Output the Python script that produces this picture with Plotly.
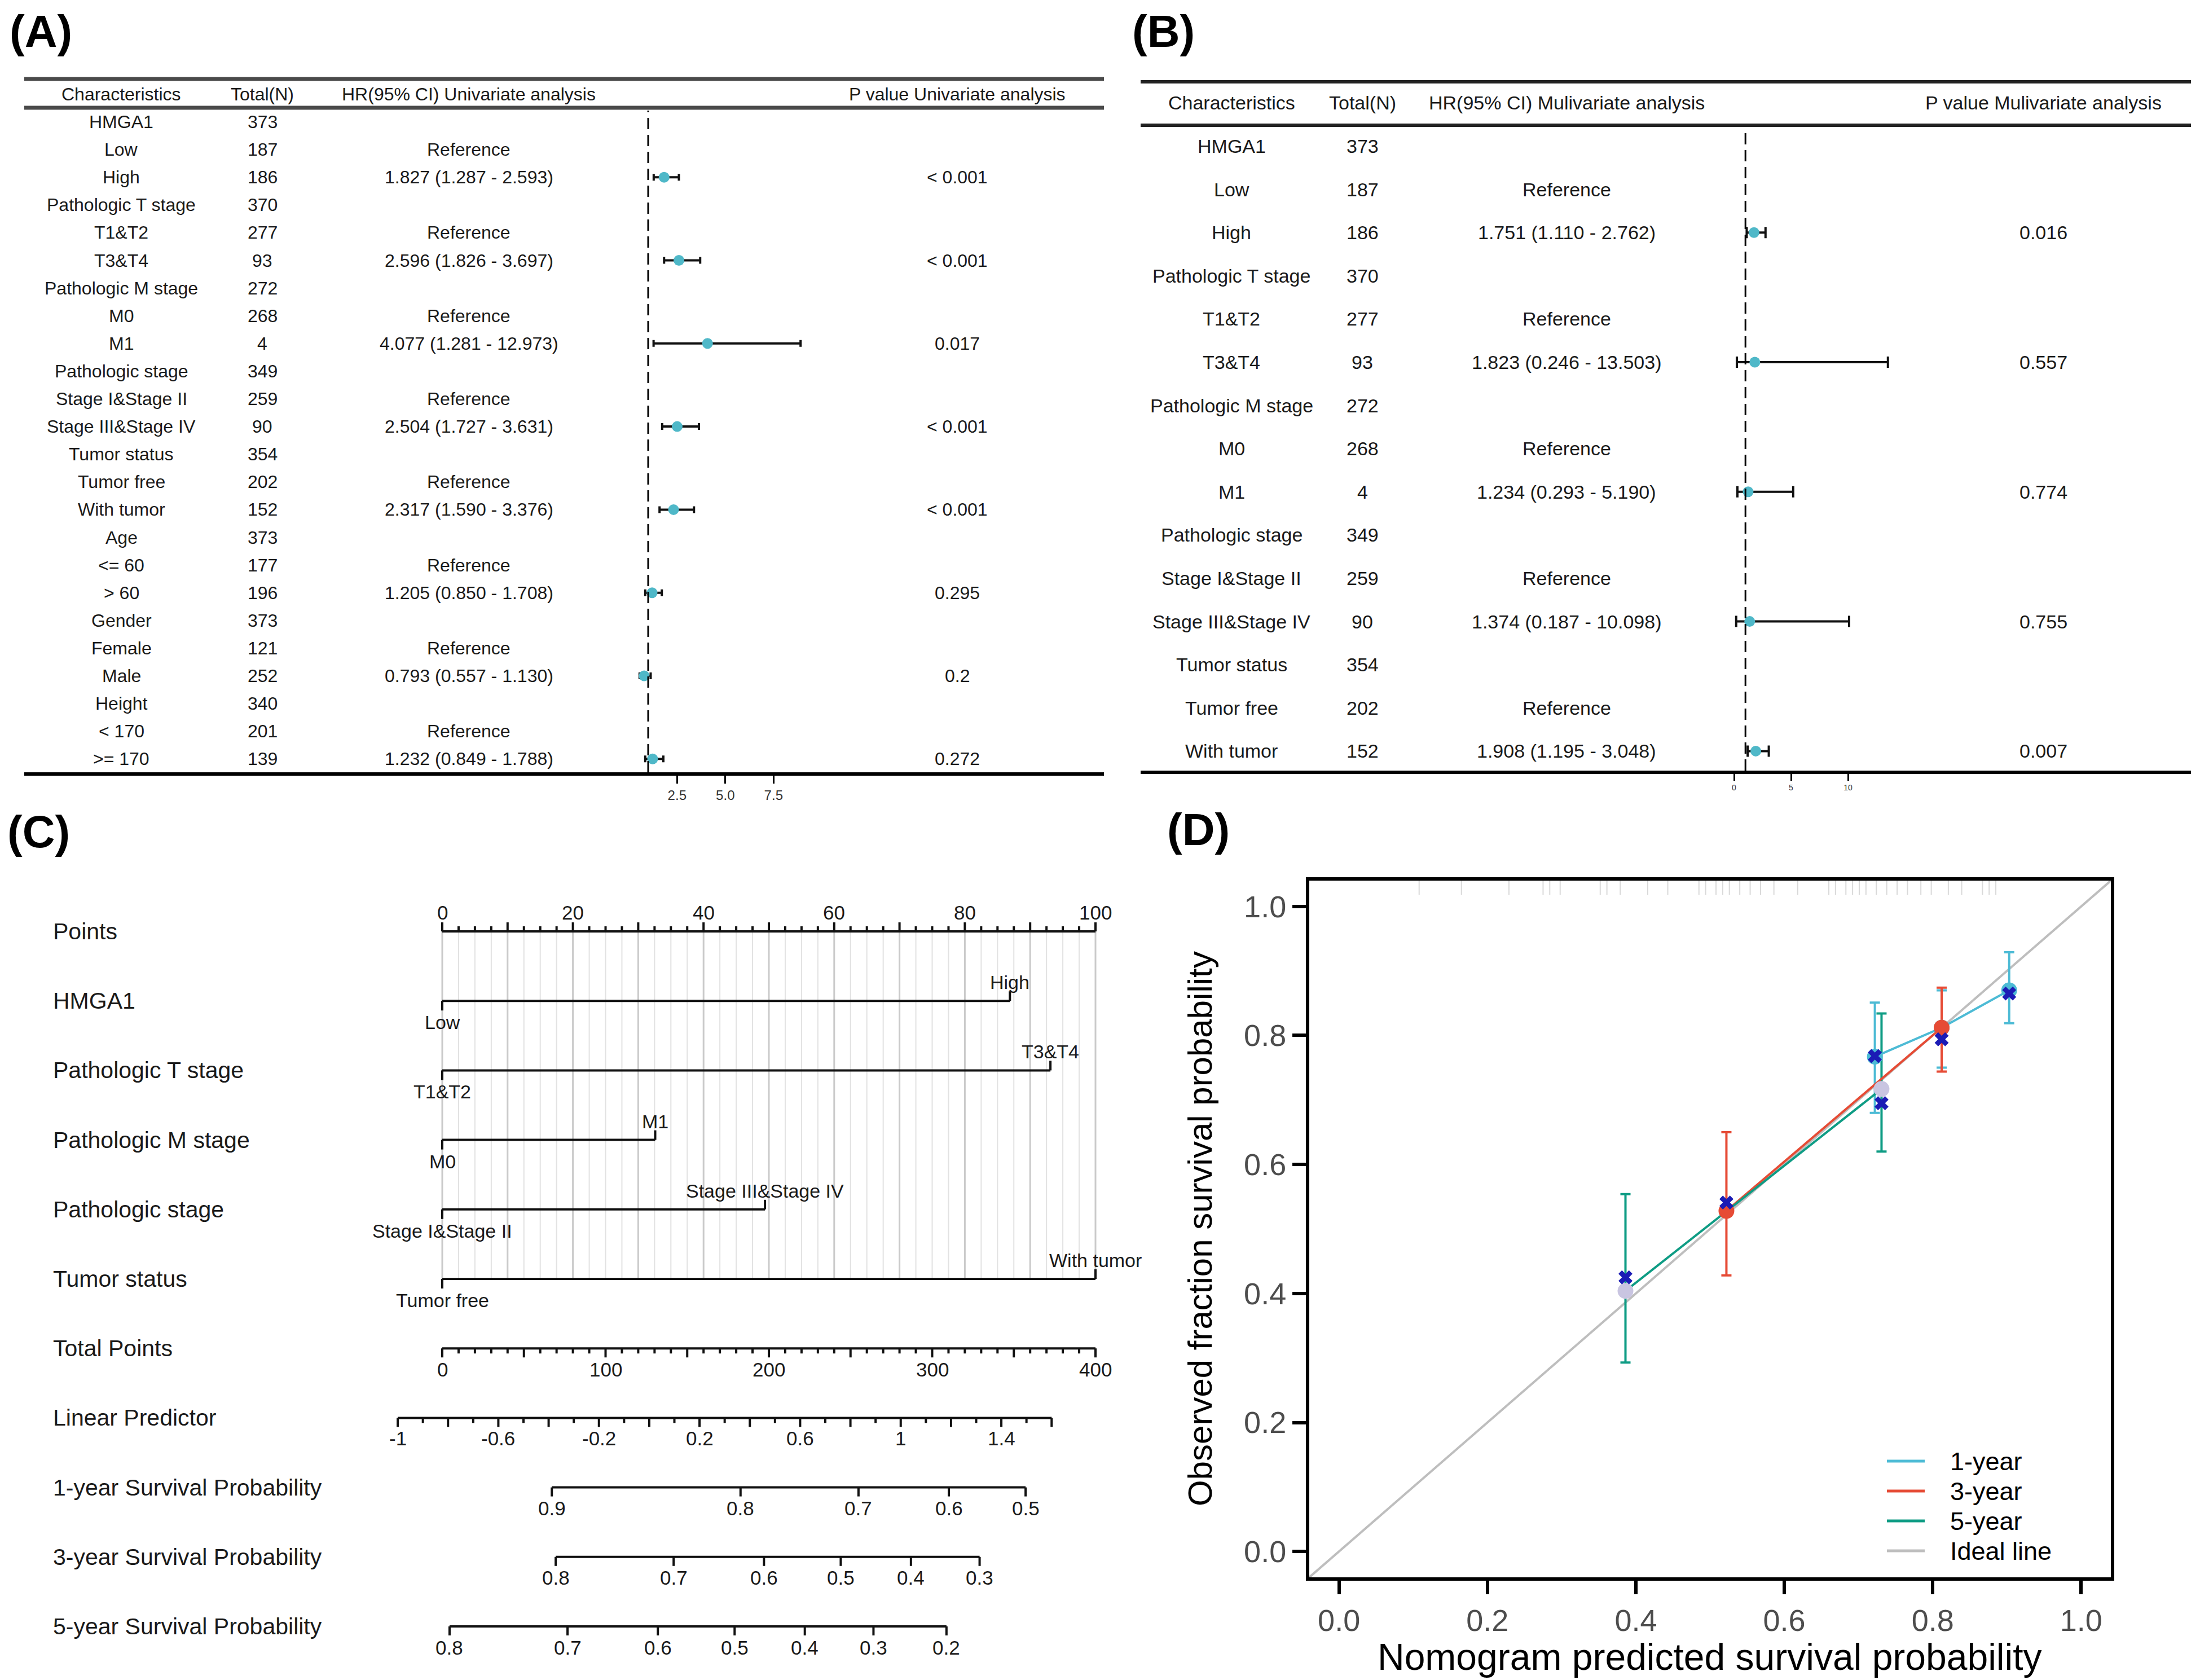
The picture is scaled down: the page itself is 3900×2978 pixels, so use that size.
import math
import plotly.graph_objects as go

W, H = 3900, 2978
FONT = "Liberation Sans, Arial, Helvetica, sans-serif"
TXT = "#1a1a1a"

# ====================== Panel A : univariate Cox ======================
A_CHARACTERISTICS = ["HMGA1", "Low", "High", "Pathologic T stage", "T1&T2", "T3&T4",
                     "Pathologic M stage", "M0", "M1", "Pathologic stage", "Stage I&Stage II",
                     "Stage III&Stage IV", "Tumor status", "Tumor free", "With tumor", "Age",
                     "<= 60", "> 60", "Gender", "Female", "Male", "Height", "< 170", ">= 170"]
A_TOTAL_N = [373, 187, 186, 370, 277, 93, 272, 268, 4, 349, 259, 90, 354, 202, 152,
             373, 177, 196, 373, 121, 252, 340, 201, 139]
A_REFERENCE = ["Low", "T1&T2", "M0", "Stage I&Stage II", "Tumor free", "<= 60", "Female", "< 170"]
A_LEVELS = ["High", "T3&T4", "M1", "Stage III&Stage IV", "With tumor", "> 60", "Male", ">= 170"]
A_HR = [1.827, 2.596, 4.077, 2.504, 2.317, 1.205, 0.793, 1.232]
A_LO = [1.287, 1.826, 1.281, 1.727, 1.590, 0.850, 0.557, 0.849]
A_HI = [2.593, 3.697, 12.973, 3.631, 3.376, 1.708, 1.130, 1.788]
A_P = ["< 0.001", "< 0.001", "0.017", "< 0.001", "< 0.001", "0.295", "0.2", "0.272"]
A_CLIP_HI = 8.9
A_TICKS = [2.5, 5.0, 7.5]

# ====================== Panel B : multivariate Cox ======================
B_CHARACTERISTICS = ["HMGA1", "Low", "High", "Pathologic T stage", "T1&T2", "T3&T4",
                     "Pathologic M stage", "M0", "M1", "Pathologic stage", "Stage I&Stage II",
                     "Stage III&Stage IV", "Tumor status", "Tumor free", "With tumor"]
B_TOTAL_N = [373, 187, 186, 370, 277, 93, 272, 268, 4, 349, 259, 90, 354, 202, 152]
B_REFERENCE = ["Low", "T1&T2", "M0", "Stage I&Stage II", "Tumor free"]
B_LEVELS = ["High", "T3&T4", "M1", "Stage III&Stage IV", "With tumor"]
B_HR = [1.751, 1.823, 1.234, 1.374, 1.908]
B_LO = [1.110, 0.246, 0.293, 0.187, 1.195]
B_HI = [2.762, 13.503, 5.190, 10.098, 3.048]
B_P = ["0.016", "0.557", "0.774", "0.755", "0.007"]
B_TICKS = [0, 5, 10]

REF_HR = 1.0

# ====================== Panel C : nomogram ======================
C_ROW_LABELS = ["Points", "HMGA1", "Pathologic T stage", "Pathologic M stage", "Pathologic stage",
                "Tumor status", "Total Points", "Linear Predictor", "1-year Survival Probability",
                "3-year Survival Probability", "5-year Survival Probability"]
C_VARS = ["HMGA1", "Pathologic T stage", "Pathologic M stage", "Pathologic stage", "Tumor status"]
C_LOW_LEVEL = ["Low", "T1&T2", "M0", "Stage I&Stage II", "Tumor free"]
C_HIGH_LEVEL = ["High", "T3&T4", "M1", "Stage III&Stage IV", "With tumor"]
C_HIGH_POINTS = [86.9, 93.1, 32.6, 49.4, 100.0]
C_POINTS_LABELS = [0, 20, 40, 60, 80, 100]
C_TOTAL_LABELS = [0, 100, 200, 300, 400]
C_TOTAL_MAX = 400
C_LP_MIN, C_LP_MAX = -1.0, 1.6
C_LP_LABELS = [-1, -0.6, -0.2, 0.2, 0.6, 1, 1.4]
C_LP_AT_ZERO = -0.823        # linear predictor at 0 total points
C_TP_PER_LP = 154.0          # total points per unit of linear predictor
C_LOG_CUMHAZ0 = {1: -1.863, 3: -1.128, 5: -0.706}   # baseline log cumulative hazard
C_SURV_TICKS = {1: [0.9, 0.8, 0.7, 0.6, 0.5],
                3: [0.8, 0.7, 0.6, 0.5, 0.4, 0.3],
                5: [0.8, 0.7, 0.6, 0.5, 0.4, 0.3, 0.2]}

# ====================== Panel D : calibration ======================
D_1Y_PRED = [0.722, 0.812, 0.903]
D_1Y_OBS = [0.767, 0.812, 0.870]
D_1Y_LO = [0.680, 0.750, 0.819]
D_1Y_HI = [0.851, 0.870, 0.929]
D_1Y_XPRED = [0.722, 0.903]
D_1Y_XOBS = [0.768, 0.865]

D_3Y_PRED = [0.522, 0.812]
D_3Y_OBS = [0.528, 0.812]
D_3Y_LO = [0.428, 0.744]
D_3Y_HI = [0.650, 0.874]
D_3Y_XPRED = [0.522, 0.812]
D_3Y_XOBS = [0.541, 0.794]

D_5Y_PRED = [0.386, 0.731]
D_5Y_OBS = [0.404, 0.717]
D_5Y_LO = [0.293, 0.620]
D_5Y_HI = [0.554, 0.834]
D_5Y_XPRED = [0.386, 0.731]
D_5Y_XOBS = [0.425, 0.695]

D_RUG = [0.108, 0.165, 0.229, 0.275, 0.284, 0.298, 0.352, 0.361, 0.379, 0.416, 0.443,
         0.485, 0.494, 0.508, 0.517, 0.526, 0.540, 0.554, 0.568, 0.586, 0.618, 0.660,
         0.669, 0.683, 0.692, 0.701, 0.710, 0.724, 0.738, 0.752, 0.766, 0.784, 0.798,
         0.821, 0.839, 0.867, 0.876, 0.885]
D_TICKS = [0.0, 0.2, 0.4, 0.6, 0.8, 1.0]
D_RANGE = [-0.04, 1.04]
D_LEGEND = ["1-year", "3-year", "5-year", "Ideal line"]
C1Y, C3Y, C5Y, CIDEAL = "#4DBBD5", "#E64B35", "#0E9C84", "#BEBEBE"
D_COLORS = [C1Y, C3Y, C5Y, CIDEAL]


def esc(s):
    return str(s).replace("&", "&amp;").replace("<", "&lt;").replace(">", "&gt;")


def pxx(x):
    return x / W


def pxy(y):
    return 1 - y / H


fig = go.Figure()
ann = []
shapes = []

# ---------------------------------------------------------------- A & B tables
def forest(chars, totals, refs, levels, hr, lo, hi, pvals, clip_hi, xa, ya, cols,
           hdr_hr, hdr_p, marker_size, cap, fs):
    heads = ["Characteristics", "Total(N)", hdr_hr, hdr_p]
    for c, t in zip(cols, heads):
        ann.append(dict(x=pxx(c), xref="paper", y=-1, yref=ya, text=esc(t), showarrow=False,
                        xanchor="center", yanchor="middle", font=dict(size=fs, color=TXT)))
    for i, (nm, n) in enumerate(zip(chars, totals)):
        ann.append(dict(x=pxx(cols[0]), xref="paper", y=i, yref=ya, text=esc(nm), showarrow=False,
                        xanchor="center", yanchor="middle", font=dict(size=fs, color=TXT)))
        ann.append(dict(x=pxx(cols[1]), xref="paper", y=i, yref=ya, text=str(n), showarrow=False,
                        xanchor="center", yanchor="middle", font=dict(size=fs, color=TXT)))
    for r in refs:
        ann.append(dict(x=pxx(cols[2]), xref="paper", y=chars.index(r), yref=ya, text="Reference",
                        showarrow=False, xanchor="center", yanchor="middle",
                        font=dict(size=fs, color=TXT)))
    for lv, h, l, u, p in zip(levels, hr, lo, hi, pvals):
        y = chars.index(lv)
        ann.append(dict(x=pxx(cols[2]), xref="paper", y=y, yref=ya,
                        text=f"{h:.3f} ({l:.3f} - {u:.3f})", showarrow=False,
                        xanchor="center", yanchor="middle", font=dict(size=fs, color=TXT)))
        ann.append(dict(x=pxx(cols[3]), xref="paper", y=y, yref=ya, text=esc(p), showarrow=False,
                        xanchor="center", yanchor="middle", font=dict(size=fs, color=TXT)))
    ys = [chars.index(lv) for lv in levels]
    up = [min(u, clip_hi) - h for h, u in zip(hr, hi)]
    dn = [h - l for h, l in zip(hr, lo)]
    fig.add_trace(go.Scatter(
        x=hr, y=ys, mode="markers", xaxis=xa, yaxis=ya,
        marker=dict(size=marker_size, color="#4FB8C8", symbol="circle",
                    line=dict(width=0)),
        error_x=dict(type="data", symmetric=False, array=up, arrayminus=dn,
                     color="#111111", thickness=4, width=cap),
        hoverinfo="skip", showlegend=False))


forest(A_CHARACTERISTICS, A_TOTAL_N, A_REFERENCE, A_LEVELS, A_HR, A_LO, A_HI, A_P, A_CLIP_HI,
       "x", "y", [215, 465, 831, 1697],
       "HR(95% CI) Univariate analysis", "P value Univariate analysis", 19, 6, 32)
forest(B_CHARACTERISTICS, B_TOTAL_N, B_REFERENCE, B_LEVELS, B_HR, B_LO, B_HI, B_P, 1e9,
       "x2", "y2", [2183, 2415, 2777, 3622],
       "HR(95% CI) Mulivariate analysis", "P value Mulivariate analysis", 19, 10, 34)

# table rules
for (x0, x1, y, col, w) in [(43, 1957, 140, "#4a4a4a", 7), (43, 1957, 191, "#4a4a4a", 7),
                            (2022, 3884, 145, "#222222", 6), (2022, 3884, 222, "#222222", 6)]:
    shapes.append(dict(type="line", xref="paper", yref="paper", x0=pxx(x0), x1=pxx(x1),
                       y0=pxy(y), y1=pxy(y), line=dict(color=col, width=w)))
# reference (HR = 1) dashed lines
shapes.append(dict(type="line", xref="x", yref="paper", x0=REF_HR, x1=REF_HR,
                   y0=pxy(1369), y1=pxy(196), line=dict(color="black", width=3, dash="20px,10px")))
shapes.append(dict(type="line", xref="x2", yref="paper", x0=REF_HR, x1=REF_HR,
                   y0=pxy(1366), y1=pxy(230), line=dict(color="black", width=3, dash="20px,10px")))

# ---------------------------------------------------------------- C nomogram
ROW_PX = 123.2
TL_MAJ = 16 / ROW_PX
TL_MIN = 9 / ROW_PX
TL_LVL = 17 / ROW_PX


def tp_to_pts(tp):
    return tp * 100.0 / C_TOTAL_MAX


def lp_to_pts(lp):
    return tp_to_pts((lp - C_LP_AT_ZERO) * C_TP_PER_LP)


def surv_to_pts(s, h):
    return lp_to_pts(math.log(-math.log(s)) - C_LOG_CUMHAZ0[h])


gx_min, gy_min, gx_maj, gy_maj = [], [], [], []
lx, ly = [], []


def seg(x0, y0, x1, y1, xs=None, ys=None):
    xs = lx if xs is None else xs
    ys = ly if ys is None else ys
    xs += [x0, x1, None]
    ys += [y0, y1, None]


tumor_row = C_ROW_LABELS.index("Tumor status")
step = 2.5
k = 0
while k * step <= 100 + 1e-9:
    p = k * step
    major = (k % 4 == 0)
    if major:
        seg(p, 0, p, tumor_row, gx_maj, gy_maj)
    else:
        seg(p, 0, p, tumor_row, gx_min, gy_min)
    seg(p, 0, p, -(TL_MAJ if major else TL_MIN))
    k += 1
seg(0, 0, 100, 0)
for v in C_POINTS_LABELS:
    ann.append(dict(x=v, xref="x3", y=0, yref="y3", yshift=34, text=str(v), showarrow=False,
                    xanchor="center", yanchor="middle", font=dict(size=35, color=TXT)))

for var, lo_l, hi_l, hp in zip(C_VARS, C_LOW_LEVEL, C_HIGH_LEVEL, C_HIGH_POINTS):
    r = C_ROW_LABELS.index(var)
    seg(0, r, hp, r)
    seg(0, r, 0, r + TL_LVL)
    seg(hp, r, hp, r - TL_LVL)
    ann.append(dict(x=0, xref="x3", y=r, yref="y3", yshift=-38, text=esc(lo_l), showarrow=False,
                    xanchor="center", yanchor="middle", font=dict(size=34, color=TXT)))
    ann.append(dict(x=hp, xref="x3", y=r, yref="y3", yshift=33, text=esc(hi_l), showarrow=False,
                    xanchor="center", yanchor="middle", font=dict(size=34, color=TXT)))

r = C_ROW_LABELS.index("Total Points")
seg(tp_to_pts(0), r, tp_to_pts(C_TOTAL_MAX), r)
for t in range(0, C_TOTAL_MAX + 1, 10):
    seg(tp_to_pts(t), r, tp_to_pts(t), r + (TL_MAJ if t % 50 == 0 else TL_MIN))
for v in C_TOTAL_LABELS:
    ann.append(dict(x=tp_to_pts(v), xref="x3", y=r, yref="y3", yshift=-37, text=str(v),
                    showarrow=False, xanchor="center", yanchor="middle",
                    font=dict(size=35, color=TXT)))

r = C_ROW_LABELS.index("Linear Predictor")
seg(lp_to_pts(C_LP_MIN), r, lp_to_pts(C_LP_MAX), r)
n_lp = int(round((C_LP_MAX - C_LP_MIN) / 0.1))
for j in range(n_lp + 1):
    v = C_LP_MIN + 0.1 * j
    seg(lp_to_pts(v), r, lp_to_pts(v), r + (TL_MAJ if j % 2 == 0 else TL_MIN))
for v in C_LP_LABELS:
    ann.append(dict(x=lp_to_pts(v), xref="x3", y=r, yref="y3", yshift=-36, text=f"{v:g}",
                    showarrow=False, xanchor="center", yanchor="middle",
                    font=dict(size=35, color=TXT)))

for h, lab in [(1, "1-year Survival Probability"), (3, "3-year Survival Probability"),
               (5, "5-year Survival Probability")]:
    r = C_ROW_LABELS.index(lab)
    ticks = C_SURV_TICKS[h]
    seg(surv_to_pts(ticks[0], h), r, surv_to_pts(ticks[-1], h), r)
    for s in ticks:
        seg(surv_to_pts(s, h), r, surv_to_pts(s, h), r + TL_MAJ)
        ann.append(dict(x=surv_to_pts(s, h), xref="x3", y=r, yref="y3", yshift=-37,
                        text=f"{s:g}", showarrow=False, xanchor="center", yanchor="middle",
                        font=dict(size=35, color=TXT)))

fig.add_trace(go.Scatter(x=gx_min, y=gy_min, mode="lines", xaxis="x3", yaxis="y3",
                         line=dict(color="#E2E2E2", width=2), hoverinfo="skip", showlegend=False))
fig.add_trace(go.Scatter(x=gx_maj, y=gy_maj, mode="lines", xaxis="x3", yaxis="y3",
                         line=dict(color="#CACACA", width=3), hoverinfo="skip", showlegend=False))
fig.add_trace(go.Scatter(x=lx, y=ly, mode="lines", xaxis="x3", yaxis="y3",
                         line=dict(color="#111111", width=4), hoverinfo="skip", showlegend=False))

for i, lab in enumerate(C_ROW_LABELS):
    ann.append(dict(x=pxx(92), xref="paper", y=i, yref="y3", text=esc(lab), showarrow=False,
                    xanchor="left", yanchor="middle", font=dict(size=41, color=TXT)))

# ---------------------------------------------------------------- D calibration
fig.add_trace(go.Scatter(x=D_RANGE, y=D_RANGE, mode="lines", xaxis="x4", yaxis="y4",
                         line=dict(color=CIDEAL, width=4), hoverinfo="skip", showlegend=False))
rx, ry = [], []
for v in D_RUG:
    rx += [v, v, None]
    ry += [1.018, 1.040, None]
fig.add_trace(go.Scatter(x=rx, y=ry, mode="lines", xaxis="x4", yaxis="y4",
                         line=dict(color="#D9D9D9", width=2), hoverinfo="skip", showlegend=False))

series = [
    (D_1Y_PRED, D_1Y_OBS, D_1Y_LO, D_1Y_HI, C1Y, C1Y),
    (D_3Y_PRED, D_3Y_OBS, D_3Y_LO, D_3Y_HI, C3Y, C3Y),
    (D_5Y_PRED, D_5Y_OBS, D_5Y_LO, D_5Y_HI, C5Y, "#C9C5E1"),
]
for pr, ob, lo, hi, col, _ in series:
    fig.add_trace(go.Scatter(
        x=pr, y=ob, mode="markers", xaxis="x4", yaxis="y4",
        marker=dict(size=1, color="rgba(0,0,0,0)"),
        error_y=dict(type="data", symmetric=False, array=[u - o for u, o in zip(hi, ob)],
                     arrayminus=[o - l for o, l in zip(ob, lo)], color=col, thickness=4, width=9),
        hoverinfo="skip", showlegend=False))
for pr, ob, lo, hi, col, _ in series:
    fig.add_trace(go.Scatter(x=pr, y=ob, mode="lines", xaxis="x4", yaxis="y4",
                             line=dict(color=col, width=4), hoverinfo="skip", showlegend=False))
for pr, ob, lo, hi, col, mcol in series:
    fig.add_trace(go.Scatter(x=pr, y=ob, mode="markers", xaxis="x4", yaxis="y4",
                             marker=dict(size=28, color=mcol, line=dict(width=0)),
                             hoverinfo="skip", showlegend=False))
for xp, xo in [(D_1Y_XPRED, D_1Y_XOBS), (D_3Y_XPRED, D_3Y_XOBS), (D_5Y_XPRED, D_5Y_XOBS)]:
    fig.add_trace(go.Scatter(x=xp, y=xo, mode="markers", xaxis="x4", yaxis="y4",
                             marker=dict(size=22, color="#1B1BB5", symbol="x", line=dict(width=0)),
                             hoverinfo="skip", showlegend=False))

# legend (drawn)
leg_y = [2590, 2643, 2696, 2749]
for name, col, yy in zip(D_LEGEND, D_COLORS, leg_y):
    shapes.append(dict(type="line", xref="paper", yref="paper", x0=pxx(3345), x1=pxx(3412),
                       y0=pxy(yy), y1=pxy(yy), line=dict(color=col, width=5)))
    ann.append(dict(x=pxx(3455), xref="paper", y=pxy(yy), yref="paper", text=name,
                    showarrow=False, xanchor="left", yanchor="middle",
                    font=dict(size=45, color="black")))

# axis titles
ann.append(dict(x=pxx(3031), xref="paper", y=pxy(2976), yref="paper",
                text="Nomogram predicted survival probability", showarrow=False,
                xanchor="center", yanchor="bottom", font=dict(size=66, color="black")))
ann.append(dict(x=pxx(2127), xref="paper", y=pxy(2178), yref="paper",
                text="Observed fraction survival probability", showarrow=False, textangle=-90,
                xanchor="center", yanchor="middle", font=dict(size=60, color="black")))

# panel letters
for lab, cx, cy in [("(A)", 72, 55), ("(B)", 2062, 55), ("(C)", 68, 1475), ("(D)", 2124, 1471)]:
    ann.append(dict(x=pxx(cx), xref="paper", y=pxy(cy), yref="paper", text=f"<b>{lab}</b>",
                    showarrow=False, xanchor="center", yanchor="middle",
                    font=dict(size=80, color="black", family="Liberation Sans, Arial")))

noax = dict(visible=False, showgrid=False, zeroline=False, fixedrange=True)
fig.update_layout(
    width=W, height=H, margin=dict(l=0, r=0, t=0, b=0),
    paper_bgcolor="white", plot_bgcolor="white", showlegend=False,
    font=dict(family=FONT, color=TXT),
    xaxis=dict(domain=[pxx(43), pxx(1957)], range=[1 + (43 - 1149) / 34.2, 1 + (1957 - 1149) / 34.2],
               anchor="y", showline=True, linecolor="black", linewidth=6, ticks="outside",
               ticklen=14, tickwidth=3, tickcolor="black", tickvals=A_TICKS,
               ticktext=[f"{t:.1f}" for t in A_TICKS], tickfont=dict(size=24, color="#333333"),
               showgrid=False, zeroline=False),
    yaxis=dict(domain=[pxy(1369), pxy(120)], range=[(1369 - 216) / 49.1, (120 - 216) / 49.1],
               anchor="x", **noax),
    xaxis2=dict(domain=[pxx(2022), pxx(3884)], range=[(2022 - 3074) / 20.2, (3884 - 3074) / 20.2],
                anchor="y2", showline=True, linecolor="black", linewidth=6, ticks="outside",
                ticklen=12, tickwidth=3, tickcolor="black", tickvals=B_TICKS,
                ticktext=[str(t) for t in B_TICKS], tickfont=dict(size=14, color="#333333"),
                showgrid=False, zeroline=False),
    yaxis2=dict(domain=[pxy(1366), pxy(120)], range=[(1366 - 259) / 76.6, (120 - 259) / 76.6],
                anchor="x2", **noax),
    xaxis3=dict(domain=[0, pxx(1960)], range=[-784 / 11.58, (1960 - 784) / 11.58],
                anchor="y3", **noax),
    yaxis3=dict(domain=[0, pxy(1400)], range=[(2978 - 1651) / ROW_PX, (1400 - 1651) / ROW_PX],
                anchor="x3", **noax),
    xaxis4=dict(domain=[pxx(2321), pxx(3742)], range=D_RANGE, anchor="y4", showline=True,
                mirror=True, linecolor="black", linewidth=6, ticks="outside", ticklen=24,
                tickwidth=6, tickcolor="black", tickvals=D_TICKS,
                ticktext=[f"{t:.1f}" for t in D_TICKS], tickfont=dict(size=54, color="#4D4D4D"),
                showgrid=False, zeroline=False),
    yaxis4=dict(domain=[pxy(2796), pxy(1561)], range=D_RANGE, anchor="x4", showline=True,
                mirror=True, linecolor="black", linewidth=6, ticks="outside", ticklen=24,
                tickwidth=6, tickcolor="black", tickvals=D_TICKS,
                ticktext=[f"{t:.1f}" for t in D_TICKS], tickfont=dict(size=54, color="#4D4D4D"),
                showgrid=False, zeroline=False),
    annotations=ann, shapes=shapes,
)

fig.write_html("out.html")
